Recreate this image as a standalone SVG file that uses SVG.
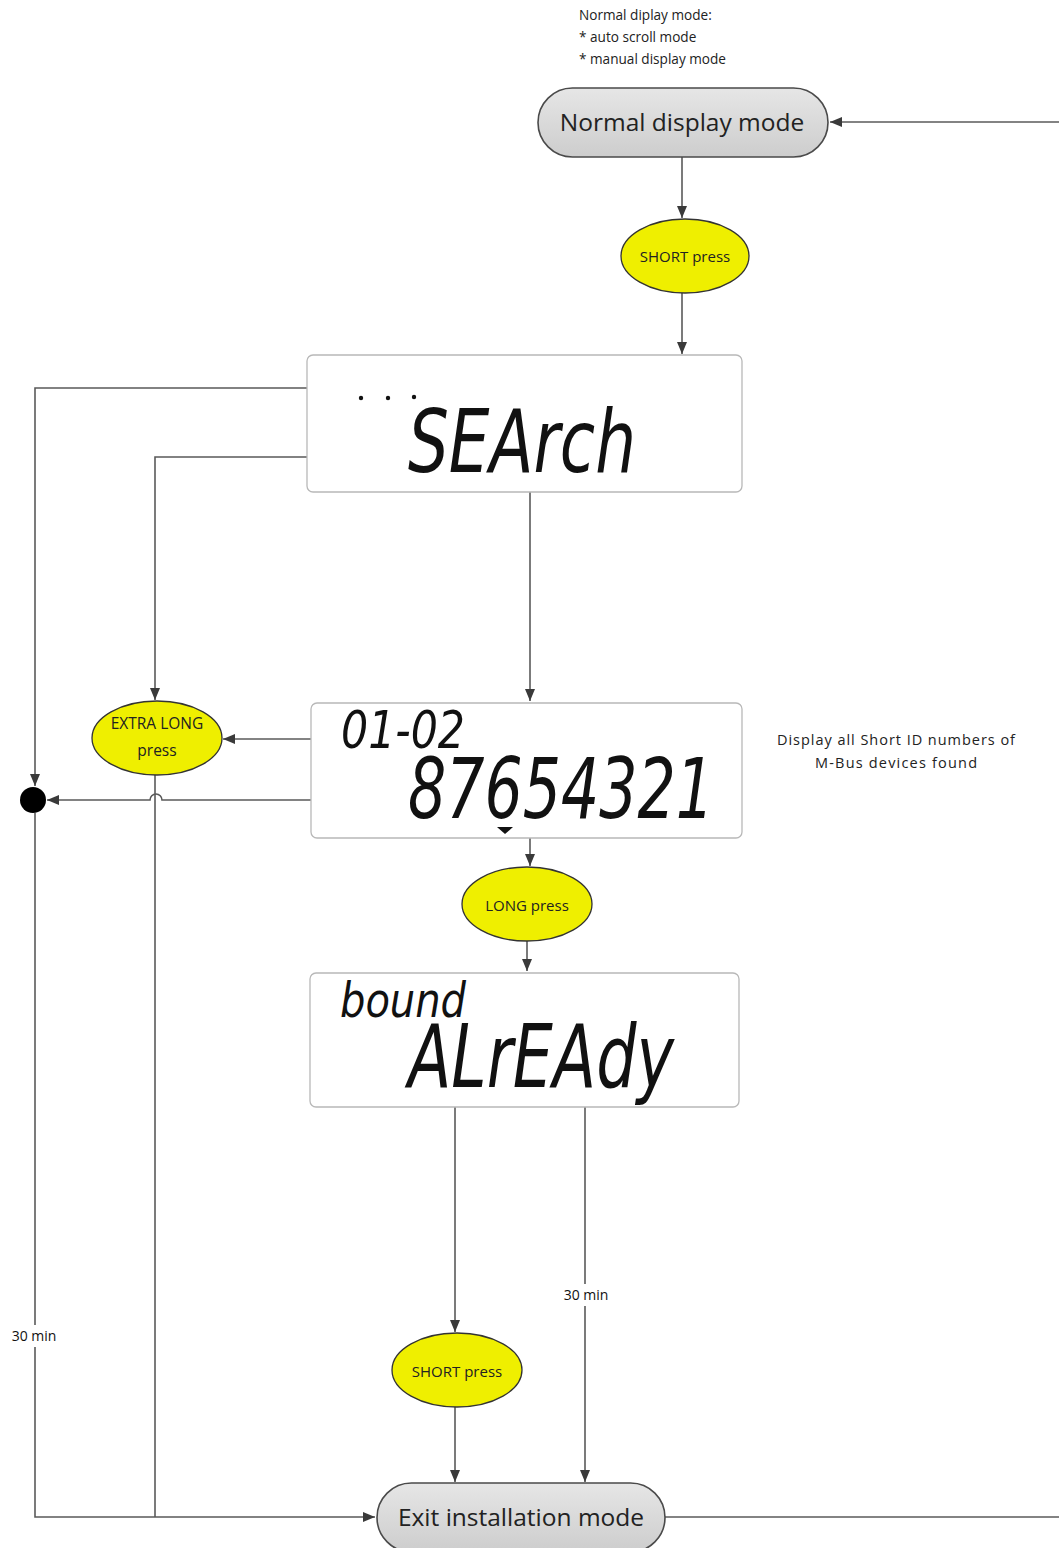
<svg xmlns="http://www.w3.org/2000/svg" width="1059" height="1548" viewBox="0 0 1059 1548">
<defs>
<marker id="arr" viewBox="0 0 12 10" refX="12" refY="5" markerWidth="12" markerHeight="10" markerUnits="userSpaceOnUse" orient="auto">
<path d="M0,0 L12,5 L0,10 Z" fill="#3a3a3a"/>
</marker>
<linearGradient id="pill" x1="0" y1="0" x2="0" y2="1">
<stop offset="0" stop-color="#e6e6e6"/>
<stop offset="1" stop-color="#cdcdcd"/>
</linearGradient>
<style>
.ln{fill:none;stroke:#5a5a5a;stroke-width:1.6}
.pill{fill:url(#pill);stroke:#4a4a4a;stroke-width:1.6}
.ell{fill:#efef00;stroke:#333;stroke-width:1.3}
.lcd{fill:#fff;stroke:#b8b8b8;stroke-width:1.3}
.seg{font-family:"DejaVu Sans Condensed","DejaVu Sans",sans-serif;font-style:italic;fill:#111}
.t{font-family:"Open Sans","Liberation Sans",sans-serif;fill:#222}
.lbl{font-family:"Open Sans","Liberation Sans",sans-serif;fill:#111;font-size:14px;text-anchor:middle}
</style>
</defs>
<rect width="1059" height="1548" fill="#fff"/>

<g id="note-top" class="t" font-size="13.6">
<text x="579" y="20">Normal diplay mode:</text>
<text x="579" y="42">* auto scroll mode</text>
<text x="579" y="64">* manual display mode</text>
</g>
<g id="note-right" class="t" font-size="14.5" text-anchor="middle">
<text x="896" y="745" textLength="238" lengthAdjust="spacing">Display all Short ID numbers of</text>
<text x="896" y="768" textLength="162" lengthAdjust="spacing">M-Bus devices found</text>
</g>

<g id="connectors">
<path class="ln" d="M1059,122 H830" marker-end="url(#arr)"/>
<path class="ln" d="M682,157 V218" marker-end="url(#arr)"/>
<path class="ln" d="M682,293 V354" marker-end="url(#arr)"/>
<path class="ln" d="M530,492 V701" marker-end="url(#arr)"/>
<path class="ln" d="M307,388 H35 V786" marker-end="url(#arr)"/>
<path class="ln" d="M307,457 H155 V700" marker-end="url(#arr)"/>
<path class="ln" d="M311,739 H223" marker-end="url(#arr)"/>
<path class="ln" d="M311,800 H162 A6,6 0 0 0 150,800 H47" marker-end="url(#arr)"/>
<path class="ln" d="M530,838 V866" marker-end="url(#arr)"/>
<path class="ln" d="M527,941 V971" marker-end="url(#arr)"/>
<path class="ln" d="M35,813 V1325 M35,1347 V1517 H375" marker-end="url(#arr)"/>
<path class="ln" d="M155,775 V1517"/>
<path class="ln" d="M455,1107 V1332" marker-end="url(#arr)"/>
<path class="ln" d="M455,1407 V1482" marker-end="url(#arr)"/>
<path class="ln" d="M585,1107 V1284 M585,1306 V1482" marker-end="url(#arr)"/>
<path class="ln" d="M665,1517 H1059"/>
<text class="lbl" x="34" y="1341">30 min</text>
<text class="lbl" x="586" y="1300">30 min</text>
</g>

<g id="normal-display-mode">
<rect class="pill" x="538" y="88" width="290" height="69" rx="34.5"/>
<text class="t" x="682" y="131" font-size="24.5" text-anchor="middle">Normal display mode</text>
</g>

<g id="short-press-1">
<ellipse class="ell" cx="685" cy="256" rx="64" ry="37"/>
<text class="t" x="685" y="262" font-size="15" text-anchor="middle" fill="#111">SHORT press</text>
</g>

<g id="search-display">
<rect class="lcd" x="307" y="355" width="435" height="137" rx="6"/>
<circle cx="361" cy="398" r="2.2" fill="#111"/>
<circle cx="388" cy="398" r="2.2" fill="#111"/>
<circle cx="414" cy="397" r="2.2" fill="#111"/>
<text class="seg" x="408" y="472" font-size="88" textLength="228" lengthAdjust="spacingAndGlyphs">SEArch</text>
</g>

<g id="extra-long-press">
<ellipse class="ell" cx="157" cy="738" rx="65" ry="37"/>
<text class="t" x="157" y="729" font-size="15.5" text-anchor="middle" fill="#111">EXTRA LONG</text>
<text class="t" x="157" y="756" font-size="15.5" text-anchor="middle" fill="#111">press</text>
</g>

<g id="junction">
<circle cx="33" cy="800" r="13" fill="#000"/>
</g>

<g id="id-display">
<rect class="lcd" x="311" y="703" width="431" height="135" rx="6"/>
<text class="seg" x="341" y="748" font-size="52" textLength="124" lengthAdjust="spacingAndGlyphs">01-02</text>
<text class="seg" x="408" y="818" font-size="84" textLength="306" lengthAdjust="spacingAndGlyphs">87654321</text>
<polygon points="497,827 513,827 505,834" fill="#111"/>
</g>

<g id="long-press">
<ellipse class="ell" cx="527" cy="904" rx="65" ry="37"/>
<text class="t" x="527" y="911" font-size="15" text-anchor="middle" fill="#111">LONG press</text>
</g>

<g id="bound-display">
<rect class="lcd" x="310" y="973" width="429" height="134" rx="6"/>
<text class="seg" x="340" y="1017" font-size="48" textLength="126" lengthAdjust="spacingAndGlyphs">bound</text>
<text class="seg" x="408" y="1087" font-size="88" textLength="266" lengthAdjust="spacingAndGlyphs">ALrEAdy</text>
</g>

<g id="short-press-2">
<ellipse class="ell" cx="457" cy="1370" rx="65" ry="37"/>
<text class="t" x="457" y="1377" font-size="15" text-anchor="middle" fill="#111">SHORT press</text>
</g>

<g id="exit-installation-mode">
<rect class="pill" x="377" y="1483" width="288" height="69" rx="34.5"/>
<text class="t" x="521" y="1526" font-size="24.5" text-anchor="middle">Exit installation mode</text>
</g>
</svg>
